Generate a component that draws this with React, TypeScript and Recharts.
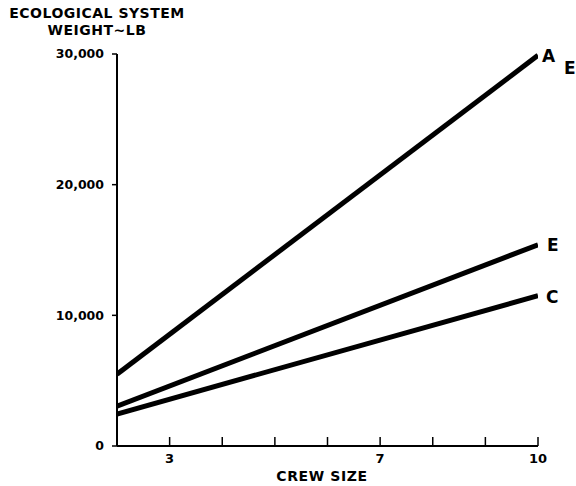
import React from 'react';
import { LineChart, Line, XAxis, YAxis } from 'recharts';

// crew size at both ends of the lines
const crewSizes = [2, 10];
// ecological system weight, lb
const seriesA = [5500, 29900];
const seriesE = [3050, 15400];
const seriesC = [2450, 11500];

const xTicks = [3, 4, 5, 6, 7, 8, 9, 10];
const xLabeled = [3, 7, 10];
const yTicks = [0, 10000, 20000, 30000];

const data = crewSizes.map((crew, i) => ({
  crew,
  A: seriesA[i],
  E: seriesE[i],
  C: seriesC[i],
}));

const font = '"DejaVu Sans", sans-serif';

const CrewTick = (props: any) => {
  const { x, y, payload } = props;
  return (
    <g>
      <line x1={x} y1={y} x2={x} y2={y - 9} stroke="#000" strokeWidth={1.5} />
      {xLabeled.includes(payload.value) && (
        <text x={x} y={y + 17} textAnchor="middle" fontSize={13} fontWeight="bold" fontFamily={font} fill="#000">
          {payload.value}
        </text>
      )}
    </g>
  );
};

const endLabel = (names: string[], offsets: number[][]) => (props: any) => {
  const { x, y, index } = props;
  if (index !== crewSizes.length - 1) return null;
  return (
    <g>
      {names.map((n, i) => (
        <text
          key={n + i}
          x={x + offsets[i][0]}
          y={y + offsets[i][1]}
          fontSize={17}
          fontWeight="bold"
          fontFamily={font}
          fill="#000"
        >
          {n}
        </text>
      ))}
    </g>
  );
};

export default function App() {
  return (
    <div style={{ position: 'absolute', left: 0, top: 0, width: 576, height: 486, background: '#fff' }}>
      <div
        style={{
          position: 'absolute',
          left: 0,
          top: 5,
          width: 194,
          textAlign: 'center',
          fontFamily: font,
          fontWeight: 'bold',
          fontSize: 14,
          letterSpacing: 0.5,
          lineHeight: '17px',
          color: '#000',
        }}
      >
        ECOLOGICAL SYSTEM
        <br />
        WEIGHT~LB
      </div>
      <div
        style={{
          position: 'absolute',
          left: 222,
          top: 468,
          width: 200,
          textAlign: 'center',
          fontFamily: font,
          fontWeight: 'bold',
          fontSize: 14,
          letterSpacing: 0.6,
          color: '#000',
        }}
      >
        CREW SIZE
      </div>
      <LineChart width={576} height={486} data={data} margin={{ top: 54, right: 38, bottom: 0, left: 57 }}>
        <XAxis
          dataKey="crew"
          type="number"
          domain={[2, 10]}
          ticks={xTicks}
          interval={0}
          tickSize={0}
          tickMargin={0}
          tickLine={false}
          tick={<CrewTick />}
          height={40}
          axisLine={{ stroke: '#000', strokeWidth: 2 }}
          allowDataOverflow
        />
        <YAxis
          type="number"
          domain={[0, 30000]}
          ticks={yTicks}
          interval={0}
          width={60}
          tickSize={5}
          tickMargin={8}
          tickLine={{ stroke: '#000', strokeWidth: 1.5 }}
          axisLine={{ stroke: '#000', strokeWidth: 2 }}
          tickFormatter={(v: number) => v.toLocaleString('en-US')}
          tick={{ fontSize: 12.5, fontWeight: 'bold', fontFamily: font, fill: '#000' }}
        />
        <Line
          dataKey="A"
          stroke="#000"
          strokeWidth={5}
          dot={false}
          isAnimationActive={false}
          label={endLabel(['A', 'E'], [[4, 7], [26, 19]])}
        />
        <Line
          dataKey="E"
          stroke="#000"
          strokeWidth={5}
          dot={false}
          isAnimationActive={false}
          label={endLabel(['E'], [[9, 6]])}
        />
        <Line
          dataKey="C"
          stroke="#000"
          strokeWidth={5}
          dot={false}
          isAnimationActive={false}
          label={endLabel(['C'], [[8, 7]])}
        />
      </LineChart>
    </div>
  );
}
